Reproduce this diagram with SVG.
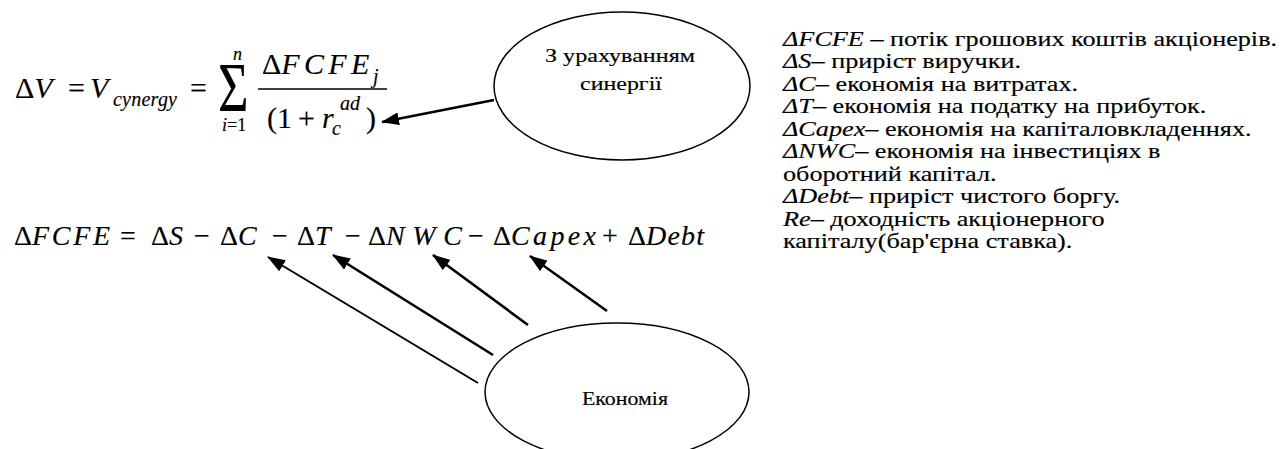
<svg xmlns="http://www.w3.org/2000/svg" width="1288" height="449" viewBox="0 0 1288 449" font-family="'Liberation Serif', 'Times New Roman', serif">
<defs>
<marker id="ah" viewBox="0 0 18 13" refX="17" refY="6.5" markerWidth="18" markerHeight="13" markerUnits="userSpaceOnUse" orient="auto">
<path d="M0,0 L18,6.5 L0,13 z" fill="#000"/>
</marker>
<style>
text{font-family:'Liberation Serif','Times New Roman',serif;fill:#000;stroke:#000;stroke-width:0.15}
.i{font-style:italic}
.f30{font-size:30px}
.f28{font-size:28px}
.f20{font-size:20px}
.f18{font-size:18px}
.lbl{font-size:19px;text-anchor:middle}
.note{font-size:20px}
.node{fill:#fff;stroke:#000;stroke-width:1.5}
.con{stroke:#000;stroke-width:2.6;fill:none;marker-end:url(#ah)}
</style>
</defs>
<rect width="1288" height="449" fill="#fff"/>
<g id="formula-v">
<text class="f30" x="15" y="98">Δ<tspan class="i">V</tspan></text>
<text class="f30" x="68" y="98">=</text>
<text class="f30 i" x="90" y="98">V</text>
<text class="f20 i" x="113" y="106" textLength="64" lengthAdjust="spacing">cynergy</text>
<text class="f30" x="190" y="98">=</text>
<text font-size="50" transform="translate(218,111) scale(1.05,1.4)">Σ</text>
<text class="f18 i" x="233" y="60">n</text>
<text class="f18" x="222" y="131"><tspan class="i">i</tspan>=1</text>
<text class="f30" x="262" y="74">Δ<tspan class="i" textLength="88" lengthAdjust="spacing">FCFE</tspan></text>
<text class="f20 i" x="373" y="83">j</text>
<line x1="258" y1="89" x2="387" y2="89" stroke="#000" stroke-width="1.3"/>
<text class="f30" x="267" y="128">(1</text>
<text class="f30" x="298" y="128">+</text>
<text class="f30 i" x="322" y="128">r</text>
<text class="f20 i" x="340" y="110">ad</text>
<text class="f20 i" x="332" y="135">c</text>
<text class="f30" x="366" y="128">)</text>
</g>
<g id="formula-fcfe">
<text class="f28" x="14" y="245">Δ<tspan class="i" textLength="78" lengthAdjust="spacing">FCFE</tspan></text>
<text class="f28" x="120" y="245">=</text>
<text class="f28" x="151" y="245">Δ<tspan class="i">S</tspan></text>
<text class="f28" x="194" y="245">−</text>
<text class="f28" x="220" y="245">Δ<tspan class="i">C</tspan></text>
<text class="f28" x="272" y="245">−</text>
<text class="f28" x="297" y="245">Δ<tspan class="i">T</tspan></text>
<text class="f28" x="345" y="245">−</text>
<text class="f28" x="368" y="245">Δ<tspan class="i" textLength="76" lengthAdjust="spacing">NWC</tspan></text>
<text class="f28" x="468" y="245">−</text>
<text class="f28" x="493" y="245">Δ<tspan class="i" textLength="85" lengthAdjust="spacing">Capex</tspan></text>
<text class="f28" x="602" y="245">+</text>
<text class="f28" x="628" y="245">Δ<tspan class="i" textLength="58" lengthAdjust="spacing">Debt</tspan></text>
</g>
<g id="node-synergy">
<ellipse class="node" cx="622" cy="86" rx="128" ry="74"/>
<text class="lbl" x="620" y="62" textLength="150" lengthAdjust="spacingAndGlyphs">З урахуванням</text>
<text class="lbl" x="621" y="90" textLength="82" lengthAdjust="spacingAndGlyphs">синергії</text>
</g>
<g id="node-economy">
<ellipse class="node" cx="617" cy="392" rx="132" ry="69"/>
<text class="lbl" x="625" y="405" textLength="86" lengthAdjust="spacingAndGlyphs">Економія</text>
</g>
<g id="connectors">
<line class="con" x1="494" y1="100" x2="382" y2="122"/>
<line class="con" x1="478" y1="383" x2="268" y2="257" style="stroke-width:2"/>
<line class="con" x1="493" y1="355" x2="333" y2="255"/>
<line class="con" x1="528" y1="325" x2="433" y2="255"/>
<line class="con" x1="607" y1="311" x2="530" y2="256"/>
</g>
<g id="legend" transform="matrix(1.311,0,0,1,783,0)">
<text class="note" x="0" y="46"><tspan class="i">ΔFCFE</tspan> – потік грошових коштів акціонерів.</text>
<text class="note" x="0" y="68.5"><tspan class="i">ΔS</tspan>– приріст виручки.</text>
<text class="note" x="0" y="91"><tspan class="i">ΔC</tspan>– економія на витратах.</text>
<text class="note" x="0" y="113.5"><tspan class="i">ΔT</tspan>– економія на податку на прибуток.</text>
<text class="note" x="0" y="136"><tspan class="i">ΔCapex</tspan>– економія на капіталовкладеннях.</text>
<text class="note" x="0" y="158.5"><tspan class="i">ΔNWC</tspan>– економія на інвестиціях в</text>
<text class="note" x="0" y="181">оборотний капітал.</text>
<text class="note" x="0" y="203.5"><tspan class="i">ΔDebt</tspan>– приріст чистого боргу.</text>
<text class="note" x="0" y="226"><tspan class="i">Re</tspan>– доходність акціонерного</text>
<text class="note" x="0" y="248.5">капіталу(бар'єрна ставка).</text>
</g>
</svg>
